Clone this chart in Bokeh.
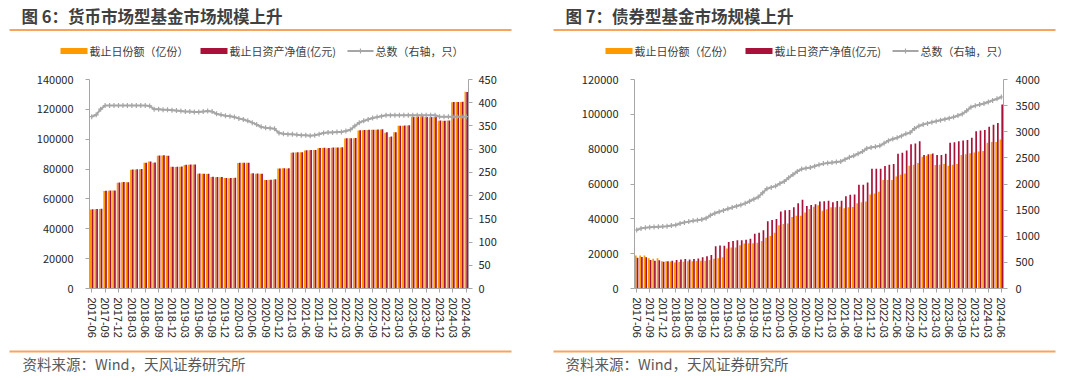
from bokeh.plotting import figure
from bokeh.models import (Range1d, LinearAxis, FixedTicker, BasicTickFormatter, ColumnDataSource)
from bokeh.core.properties import value
from bokeh.layouts import row, column
from bokeh.transform import dodge
from bokeh.embed import file_html
from bokeh.resources import INLINE

# ---------------- data ----------------
months = []
_y, _m = 2017, 6
while (_y, _m) <= (2024, 6):
    months.append(f"{_y}-{_m:02d}")
    _m += 1
    if _m > 12:
        _y, _m = _y + 1, 1

tick_labels = ["2017-06", "2017-09", "2017-12", "2018-03", "2018-06", "2018-09", "2018-12",
               "2019-03", "2019-06", "2019-09", "2019-12", "2020-03", "2020-06", "2020-09",
               "2020-12", "2021-03", "2021-06", "2021-09", "2021-12", "2022-03", "2022-06",
               "2022-09", "2022-12", "2023-03", "2023-06", "2023-09", "2023-12", "2024-03",
               "2024-06"]

# 货币市场型基金
mmf_shares = [53000, 53100, 53300, 65300, 65500, 65600, 70900, 71200, 71100,
              79600, 79700, 79900, 84200, 85000, 84300, 89000, 89100, 88900,
              81500, 81400, 81600, 82800, 82900, 83000, 76900, 76800, 76700,
              74700, 74600, 74600, 74000, 73900, 74100, 84100, 84200, 84200,
              77100, 76900, 76800, 72600, 72800, 73000, 80300, 80500, 80400,
              91000, 91100, 91200, 92500, 92600, 92700, 94000, 94100, 94000,
              94300, 94400, 94500, 100500, 100600, 100700, 105900, 106000, 106200,
              106300, 106400, 106500, 104400, 101500, 104600, 109000, 109100, 109200,
              115000, 115100, 115200, 114800, 114700, 114900, 112400, 112300, 112500,
              124800, 124900, 125000, 131800]
mmf_nav = [53100, 53200, 53400, 65400, 65600, 65700, 71000, 71300, 71200,
           79700, 79800, 80000, 84300, 85100, 84400, 89100, 89200, 89000,
           81600, 81500, 81700, 82900, 83000, 83100, 77000, 76900, 76800,
           74800, 74700, 74700, 74100, 74000, 74200, 84200, 84300, 84300,
           77200, 77000, 76900, 72700, 72900, 73100, 80400, 80600, 80500,
           91100, 91200, 91300, 92600, 92700, 92800, 94100, 94200, 94100,
           94400, 94500, 94600, 100600, 100700, 100800, 106000, 106100, 106300,
           106400, 106500, 106600, 104600, 101800, 104700, 109100, 109200, 109300,
           115100, 115200, 115300, 114900, 114800, 115000, 112500, 112400, 112600,
           124900, 125000, 125100, 131600]
mmf_count = [370, 374, 386, 394, 394, 394, 394, 394, 394, 394, 394, 394, 394, 393, 386,
             386, 385, 385, 384, 383, 382, 381, 381, 380, 380, 381, 382, 381, 376, 374,
             372, 371, 369, 366, 364, 361, 357, 353, 348, 346, 345, 344, 335, 333, 332,
             332, 331, 330, 330, 329, 330, 332, 335, 336, 336, 337, 337, 339, 342, 350,
             357, 361, 364, 367, 369, 371, 373, 373, 373, 373, 373, 373, 373, 373, 373,
             373, 373, 373, 370, 370, 370, 370, 370, 370, 370]

# 债券型基金
bond_shares = [19000, 19000, 19000, 17300, 17100, 17300, 15600, 15600, 15500,
               14900, 15200, 15400, 15600, 15700, 15800, 15900, 16000, 16400,
               17100, 17300, 18000, 23000, 23500, 23500, 24800, 25800, 26000,
               26000, 26300, 27300, 29200, 30100, 32000, 36300, 37100, 37300,
               41000, 41800, 41800, 43700, 45700, 47000, 47800, 44600, 45500,
               46700, 46700, 47000, 46100, 46700, 46800, 48900, 49500, 49900,
               54000, 54600, 55500, 62300, 62300, 62300, 64300, 65300, 66000,
               70500, 71100, 72000, 75600, 76200, 77100, 70900, 71100, 71500,
               70500, 71100, 71500, 76700, 77100, 77700, 78100, 78600, 79000,
               83700, 84100, 84100, 85600]
bond_nav = [17700, 18100, 17900, 16400, 16000, 16200, 15400, 15600, 16000,
            16400, 16700, 16900, 16700, 16900, 17200, 17900, 18500, 19300,
            24300, 24700, 24600, 26700, 27300, 27700, 27700, 28000, 28600,
            31400, 32000, 33500, 38600, 39300, 39900, 44200, 45000, 45100,
            46600, 48900, 51000, 47400, 48000, 48400, 49900, 50100, 50400,
            49500, 50200, 50400, 53000, 53800, 54000, 59500, 59600, 60900,
            68700, 68700, 68800, 70400, 71100, 71500, 77300, 77900, 79200,
            82800, 83300, 84500, 76600, 77100, 77500, 76700, 76700, 77300,
            83700, 83900, 84500, 85000, 85200, 86500, 90300, 90700, 91000,
            92900, 94000, 95000, 105700]
bond_count = [1120, 1150, 1165, 1170, 1175, 1180, 1185, 1190, 1205, 1215, 1245, 1265,
              1280, 1295, 1305, 1320, 1345, 1400, 1440, 1470, 1495, 1525, 1550, 1575,
              1600, 1630, 1670, 1710, 1750, 1830, 1910, 1935, 1960, 2010, 2050, 2120,
              2180, 2240, 2285, 2300, 2315, 2340, 2370, 2390, 2400, 2410, 2420, 2430,
              2470, 2510, 2540, 2580, 2620, 2680, 2700, 2715, 2730, 2780, 2830, 2860,
              2885, 2920, 2960, 2985, 3060, 3110, 3140, 3160, 3180, 3200, 3220, 3240,
              3260, 3280, 3310, 3340, 3400, 3470, 3500, 3520, 3540, 3570, 3600, 3630,
              3665]

titles = ["图 6：货币市场型基金市场规模上升", "图 7：债券型基金市场规模上升"]
legend_labels = ["截止日份额（亿份）", "截止日资产净值(亿元)", "总数（右轴，只）"]
source_text = "资料来源：Wind，天风证券研究所"

ORANGE = "#FF9900"
CRIMSON = "#A8123A"
GRAY = "#A6A6A6"
RULE = "#F7A45E"
TXT = "#262626"
CJK = "Noto Sans CJK SC"

W = 1080
HEAD_H = 58
CHART_H = 287
FOOT_H = 33


def blank(h):
    """A figure whose frame covers it fully, in pixel units (y grows downwards)."""
    p = figure(width=W, height=h, output_backend="svg", toolbar_location=None,
               x_range=Range1d(0, W), y_range=Range1d(h, 0),
               x_axis_type=None, y_axis_type=None,
               min_border=0, min_border_left=0, min_border_right=0,
               min_border_top=0, min_border_bottom=0)
    p.outline_line_color = None
    p.grid.visible = False
    return p


def chart(fig_w, bl, fw, bt, fh, y_max, y_step, y2_max, y2_step, shares, nav, count,
          left_standoff, right_standoff):
    br = fig_w - bl - fw
    bb = CHART_H - bt - fh
    p = figure(width=fig_w, height=CHART_H, output_backend="svg", toolbar_location=None,
               x_range=Range1d(-0.5, len(months) - 0.5), y_range=Range1d(0, y_max),
               min_border_left=bl, min_border_right=br, min_border_top=bt,
               min_border_bottom=bb)
    p.outline_line_color = None
    p.grid.visible = False

    src = ColumnDataSource(dict(x=list(range(len(months))), month=months,
                                shares=shares, nav=nav, count=count))
    p.extra_y_ranges = {"count": Range1d(0, y2_max)}

    p.vbar(x=dodge("x", -0.2, range=p.x_range), top="shares", width=0.39,
           source=src, fill_color=ORANGE, line_color=None)
    p.vbar(x=dodge("x", 0.2, range=p.x_range), top="nav", width=0.39,
           source=src, fill_color=CRIMSON, line_color=None)
    p.line(x="x", y="count", source=src, y_range_name="count",
           line_color=GRAY, line_width=2)
    p.scatter(x="x", y="count", source=src, y_range_name="count", marker="cross",
              size=5, line_color=GRAY, line_width=1.2)

    xa = p.xaxis[0]
    xa.ticker = FixedTicker(ticks=list(range(0, len(months), 3)))
    xa.major_label_overrides = {i: lab for i, lab in zip(range(0, len(months), 3), tick_labels)}
    xa.major_label_orientation = "vertical"
    xa.major_label_text_font = "Liberation Sans"
    xa.major_label_text_font_size = "11px"
    xa.major_label_standoff = 5

    ya = p.yaxis[0]
    ya.ticker = FixedTicker(ticks=list(range(0, y_max + 1, y_step)))
    ya.formatter = BasicTickFormatter(use_scientific=False)
    ya.major_label_standoff = left_standoff

    ra = LinearAxis(y_range_name="count",
                    ticker=FixedTicker(ticks=list(range(0, y2_max + 1, y2_step))),
                    formatter=BasicTickFormatter(use_scientific=False))
    ra.major_label_standoff = right_standoff
    p.add_layout(ra, "right")

    for ax in (xa, ya, ra):
        ax.axis_line_color = GRAY
        ax.major_tick_line_color = GRAY
        ax.minor_tick_line_color = None
        ax.major_tick_out = 4
        ax.major_tick_in = 0
        ax.major_label_text_color = TXT
    for ax in (ya, ra):
        ax.major_label_text_font = CJK
        ax.major_label_text_font_size = "11px"
    return p


# ---------------- header: titles, rules, legends ----------------
head = blank(HEAD_H)
head.text(x=[21, 565], y=[15, 15], text=titles, text_font=value(CJK),
          text_font_size="16.5px", text_font_style="bold", text_color="#404040",
          text_baseline="middle", text_align="left")
head.quad(left=[9, 553], right=[511, 1055], top=[28.5, 28.5], bottom=[30.5, 30.5],
          fill_color=RULE, line_color=None)
for ox in (0, 545):
    head.quad(left=[60 + ox], right=[87 + ox], top=[47.5], bottom=[53.5],
              fill_color=ORANGE, line_color=None)
    head.quad(left=[200 + ox], right=[227 + ox], top=[47.5], bottom=[53.5],
              fill_color=CRIMSON, line_color=None)
    head.line(x=[347 + ox, 373 + ox], y=[50.5, 50.5], line_color=GRAY, line_width=2)
    head.scatter(x=[360 + ox], y=[50.5], marker="cross", size=5, line_color=GRAY,
                 line_width=1.2)
    head.text(x=[89 + ox, 229 + ox, 375 + ox], y=[50.5, 50.5, 50.5], text=legend_labels,
              text_font=value(CJK), text_font_size="11px", text_color="#404040",
              text_baseline="middle", text_align="left")

# ---------------- charts ----------------
left = chart(540, 89, 379, 20, 210, 140000, 20000, 450, 50,
             mmf_shares, mmf_nav, mmf_count, 12, 6)
right = chart(540, 94, 369, 21, 213, 120000, 20000, 4000, 500,
              bond_shares, bond_nav, bond_count, 12, 8)

# ---------------- footer: rules and source ----------------
foot = blank(FOOT_H)
foot.quad(left=[9, 553], right=[511, 1055], top=[5, 5], bottom=[7, 7],
          fill_color=RULE, line_color=None)
foot.text(x=[22, 565], y=[18, 18], text=[source_text, source_text], text_font=value(CJK),
          text_font_size="14.5px", text_color="#595959", text_baseline="middle",
          text_align="left")

layout = column(head, row(left, right), foot)
open("out.html", "w").write(file_html(layout, INLINE))
